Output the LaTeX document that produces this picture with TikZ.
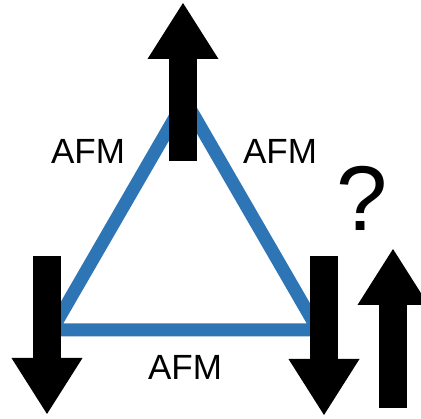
\documentclass[tikz,border=0pt]{standalone}
\usepackage{fontspec}
\setmainfont{Liberation Sans}
\usepackage{tikz}
\usetikzlibrary{arrows.meta}
\definecolor{bondBlue}{HTML}{2E75B6}

\begin{document}
\begin{tikzpicture}[x=1pt,y=-1pt,
    bond/.style={bondBlue,line width=13pt,line join=miter},
    spin/.style={line width=28pt,-{Triangle[width=71pt,length=56pt,line width=0pt 0 0]}},
    afm/.style={font=\fontsize{35}{40}\selectfont,inner sep=0pt}]
    \useasboundingbox (0,0) rectangle (421,419);
    % triangle sites
    \coordinate (top) at (185,100);
    \coordinate (left) at (52,330);
    \coordinate (right) at (318,330);
    \draw[bond] (top) -- (left) -- (right) -- cycle;
    \node[afm] (ab) at (88,151) {AFM};
    \node[afm] (ac) at (280,151) {AFM};
    \node[afm] (bc) at (185,367) {AFM};
    % spins
    \coordinate (s1) at (183,161);
    \coordinate (e1) at (183,3);
    \coordinate (s2) at (47,256);
    \coordinate (e2) at (47,414);
    \coordinate (s3) at (324,256);
    \coordinate (e3) at (324,415);
    \coordinate (s4) at (393,408);
    \coordinate (e4) at (393,249);
    \draw[spin] (s1) -- (e1);
    \draw[spin] (s2) -- (e2);
    \draw[spin] (s3) -- (e3);
    \draw[spin] (s4) -- (e4);
    \node[font=\fontsize{92}{96}\selectfont,inner sep=0pt] (q) at (362,198) {?};
  \end{tikzpicture}
\end{document}
